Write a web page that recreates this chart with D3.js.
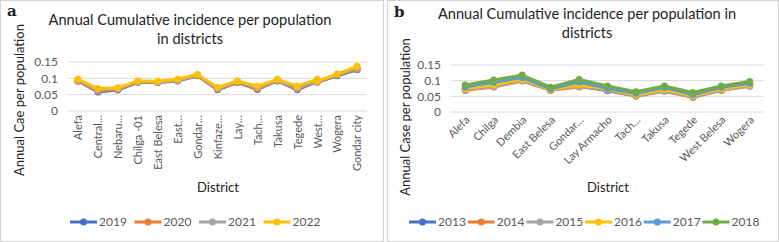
<!DOCTYPE html>
<html>
<head>
<meta charset="utf-8">
<script src="https://cdn.jsdelivr.net/npm/d3@7"></script>
<style>
  body { margin: 0; background: #fff; }
  svg { display: block; font-family: Lato, "Open Sans", sans-serif; }
  .tick text { fill: #595959; }
</style>
</head>
<body>
<svg id="chart" width="779" height="242"></svg>
<script>
// panel a
const districtsA = ["Alefa", "Central…", "Nebaru…", "Chilga -01", "East Belesa", "East…", "Gondar…", "Kinfaze…",
  "Lay…", "Tach…", "Takusa", "Tegede", "West…", "West…", "Wogera", "Gondar city"];
const yearsA = ["2019", "2020", "2021", "2022"];
const valuesA = [
  [0.092, 0.058, 0.064, 0.088, 0.087, 0.092, 0.108, 0.065, 0.087, 0.066, 0.092, 0.065, 0.091, 0.088, 0.108, 0.126],
  [0.091, 0.061, 0.066, 0.089, 0.088, 0.093, 0.109, 0.067, 0.088, 0.068, 0.093, 0.067, 0.092, 0.089, 0.110, 0.128],
  [0.094, 0.064, 0.068, 0.090, 0.089, 0.094, 0.110, 0.069, 0.090, 0.071, 0.094, 0.070, 0.094, 0.090, 0.111, 0.131],
  [0.097, 0.069, 0.071, 0.092, 0.091, 0.097, 0.112, 0.072, 0.092, 0.076, 0.097, 0.076, 0.097, 0.091, 0.113, 0.137]
];
const colorsA = ["#4472c4", "#ed7d31", "#a5a5a5", "#ffc000"];

// panel b
const districtsB = ["Alefa", "Chilga", "Dembia", "East Belesa", "Gondar…", "Lay Armacho", "Tach…", "Takusa",
  "Tegede", "West Belesa", "Wogera"];
const yearsB = ["2013", "2014", "2015", "2016", "2017", "2018"];
const valuesB = [
  [0.072, 0.083, 0.102, 0.070, 0.083, 0.068, 0.052, 0.068, 0.048, 0.071, 0.086],
  [0.069, 0.080, 0.099, 0.069, 0.080, 0.070, 0.050, 0.066, 0.047, 0.069, 0.082],
  [0.071, 0.081, 0.100, 0.071, 0.081, 0.071, 0.052, 0.067, 0.049, 0.070, 0.083],
  [0.075, 0.086, 0.104, 0.072, 0.086, 0.074, 0.055, 0.072, 0.052, 0.074, 0.087],
  [0.080, 0.095, 0.110, 0.074, 0.096, 0.076, 0.060, 0.078, 0.056, 0.079, 0.092],
  [0.086, 0.102, 0.118, 0.079, 0.104, 0.083, 0.065, 0.083, 0.062, 0.083, 0.097]
];
const colorsB = ["#4472c4", "#ed7d31", "#a5a5a5", "#ffc000", "#5b9bd5", "#70ad47"];

const yTicks = [0, 0.05, 0.1, 0.15];

const svg = d3.select("#chart");

function drawPanel(p) {
  const g = svg.append("g");
  g.append("rect").attr("x", p.box[0] + 0.5).attr("y", 0.5).attr("width", p.box[1] - p.box[0] - 1).attr("height", 241)
    .attr("fill", "#fff").attr("stroke", "#d4d4d4");

  g.append("text").attr("x", p.box[0] + 7).attr("y", p.letterY).text(p.letter)
    .style("font-family", "'DejaVu Serif', serif").style("font-weight", "bold").style("font-size", "15px").attr("fill", "#222");

  p.title.forEach((t, i) => {
    g.append("text").attr("x", p.titleX).attr("y", p.titleY + i * 19).attr("text-anchor", "middle")
      .style("font-size", "14.6px").attr("fill", "#222").text(t);
  });

  const x = d3.scalePoint().domain(p.cats).range([p.xr[0], p.xr[1]]).padding(0.5);
  const y = d3.scaleLinear().domain([0, 0.15]).range([p.yr[0], p.yr[1]]);

  // gridlines
  g.append("g").selectAll("line").data(yTicks).join("line")
    .attr("x1", p.xr[0]).attr("x2", p.xr[1]).attr("y1", d => y(d)).attr("y2", d => y(d))
    .attr("stroke", "#d9d9d9").attr("stroke-width", 1);

  const yAxis = g.append("g").attr("transform", `translate(${p.xr[0] - 4},0)`)
    .call(d3.axisLeft(y).tickValues(yTicks).tickFormat(d3.format("~g")).tickSize(0).tickPadding(6));
  yAxis.select(".domain").remove();
  yAxis.selectAll("text").style("font-size", "12px").style("font-family", "Lato, sans-serif");

  const xAxis = g.append("g").attr("transform", `translate(0,${p.yr[0] + 4})`)
    .call(d3.axisBottom(x).tickSize(0).tickPadding(0));
  xAxis.select(".domain").remove();
  xAxis.selectAll("text").style("font-size", "11px").style("font-family", "Lato, sans-serif")
    .attr("text-anchor", "end").attr("dy", p.rot === -90 ? "0.35em" : "0.6em")
    .attr("transform", `rotate(${p.rot})`).attr("y", 0).attr("x", 0);

  g.append("text").attr("x", p.xLabelX).attr("y", 192).attr("text-anchor", "middle")
    .style("font-size", "13px").attr("fill", "#222").text("District");

  g.append("text").attr("transform", `translate(${p.yLabelX},${p.yLabelY}) rotate(-90)`).attr("text-anchor", "middle")
    .style("font-size", "13px").attr("fill", "#222").text(p.yLabel);

  const line = d3.line().x((d, i) => x(p.cats[i])).y(d => y(d));
  p.values.forEach((vals, s) => {
    const sg = g.append("g");
    sg.append("path").datum(vals).attr("d", line).attr("fill", "none")
      .attr("stroke", p.colors[s]).attr("stroke-width", 3).attr("stroke-linejoin", "round");
    sg.selectAll("circle").data(vals).join("circle")
      .attr("cx", (d, i) => x(p.cats[i])).attr("cy", d => y(d)).attr("r", 3.5).attr("fill", p.colors[s]);
  });

  // legend
  const lg = g.append("g");
  p.years.forEach((yr, i) => {
    const lx = p.legendX + i * p.legendStep;
    lg.append("line").attr("x1", lx).attr("x2", lx + 27).attr("y1", 222).attr("y2", 222)
      .attr("stroke", p.colors[i]).attr("stroke-width", 3);
    lg.append("circle").attr("cx", lx + 13.5).attr("cy", 222).attr("r", 3.5).attr("fill", p.colors[i]);
    lg.append("text").attr("x", lx + 29).attr("y", 222).attr("dy", "0.35em")
      .style("font-size", "12px").attr("fill", "#595959").text(yr);
  });
}

drawPanel({
  box: [0, 384], letter: "a", letterY: 16,
  title: ["Annual Cumulative incidence per population", "in districts"], titleX: 190, titleY: 25,
  cats: districtsA, years: yearsA, values: valuesA, colors: colorsA,
  xr: [68, 367], yr: [111, 62], rot: -90,
  xLabelX: 218, yLabelX: 24, yLabelY: 100, yLabel: "Annual Cae per population",
  legendX: 70, legendStep: 64.5
});

drawPanel({
  box: [387, 779], letter: "b", letterY: 17,
  title: ["Annual Cumulative incidence per population in", "districts"], titleX: 587, titleY: 19,
  cats: districtsB, years: yearsB, values: valuesB, colors: colorsB,
  xr: [451, 764], yr: [112, 65], rot: -45,
  xLabelX: 608, yLabelX: 410, yLabelY: 117, yLabel: "Annual Case per population",
  legendX: 409, legendStep: 58.7
});
</script>
</body>
</html>
